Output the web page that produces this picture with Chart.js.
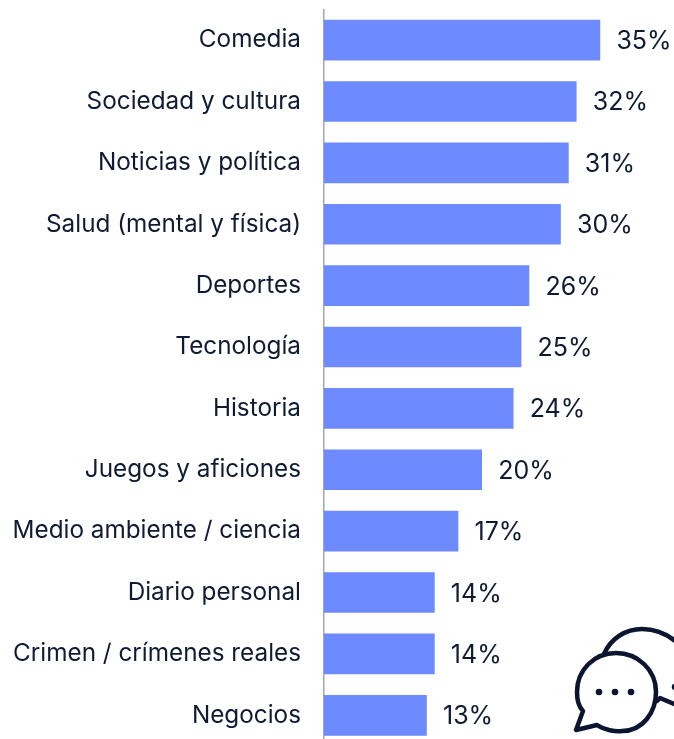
<!DOCTYPE html>
<html>
<head>
<meta charset="utf-8">
<style>
  html, body { margin: 0; padding: 0; background: #fff; overflow: hidden; width: 674px; height: 739px; }
  #wrap { position: relative; width: 674px; height: 739px; overflow: hidden; }
  #chart { position: absolute; left: 0; top: 0; }
  #icon { position: absolute; left: 0; top: 0; }
</style>
<script src="https://cdn.jsdelivr.net/npm/chart.js@4"></script>
</head>
<body>
<div id="wrap">
  <canvas id="chart" width="674" height="746"></canvas>
  <svg id="icon" width="674" height="739" viewBox="0 0 674 739" fill="none" stroke="#0b1530" stroke-width="4.5" stroke-linejoin="round" stroke-linecap="round">
    <path d="M604 654 C611 638 626 629 642 629 C660 629 674 638 684 650"/>
    <path d="M657 701 L660 698 L674 704"/>
    <path d="M597 725 C604 730 616 732 622 731 C643 731 656 712 656 692 C656 670 638 653 616 653 C594 653 577 670 577 692 C577 701 580 708 583 711 L576 730 Z"/>
    <g fill="#0b1530" stroke="none">
      <circle cx="599" cy="692" r="3.3"/>
      <circle cx="615" cy="692" r="3.3"/>
      <circle cx="631" cy="692" r="3.3"/>
      <circle cx="675" cy="687" r="3.3"/>
    </g>
  </svg>
</div>
<script>
var categories = ['Comedia', 'Sociedad y cultura', 'Noticias y política', 'Salud (mental y física)', 'Deportes', 'Tecnología', 'Historia', 'Juegos y aficiones', 'Medio ambiente / ciencia', 'Diario personal', 'Crimen / crímenes reales', 'Negocios'];
var shares = [35, 32, 31, 30, 26, 25, 24, 20, 17, 14, 14, 13];

// value labels at the end of each bar
var valueLabels = {
  id: 'valueLabels',
  afterDatasetsDraw: function (chart) {
    var ctx = chart.ctx;
    var meta = chart.getDatasetMeta(0);
    ctx.save();
    ctx.font = '400 25px Inter';
    ctx.fillStyle = '#0f1a33';
    ctx.textAlign = 'left';
    ctx.textBaseline = 'middle';
    meta.data.forEach(function (bar, i) {
      ctx.fillText(shares[i] + '%', bar.x + 16.5, bar.y + 1.5);
    });
    ctx.restore();
  }
};

new Chart(document.getElementById('chart'), {
  type: 'bar',
  data: {
    labels: categories,
    datasets: [{
      data: shares,
      backgroundColor: '#6d8aff',
      barThickness: 40,
      borderWidth: 0
    }]
  },
  options: {
    indexAxis: 'y',
    responsive: false,
    animation: false,
    devicePixelRatio: 1,
    layout: { padding: { top: 9.4, left: 0, right: 0, bottom: 0 } },
    plugins: { legend: { display: false }, tooltip: { enabled: false } },
    scales: {
      x: { display: false, min: 0, max: 44.4 },
      y: {
        // the tick padding would otherwise be added above and below the plot too
        afterFit: function (scale) {
          scale.width = 324;
          scale.paddingTop = 0;
          scale.paddingBottom = 0;
        },
        grid: { display: false, drawTicks: false },
        border: { display: true, color: '#a6a6a6', width: 1.5 },
        ticks: {
          padding: 23,
          color: '#0f1a33',
          autoSkip: false,
          minRotation: 0,
          maxRotation: 0,
          font: { family: 'Inter', size: 24.3, weight: '400' }
        }
      }
    }
  },
  plugins: [valueLabels]
});
</script>
</body>
</html>
